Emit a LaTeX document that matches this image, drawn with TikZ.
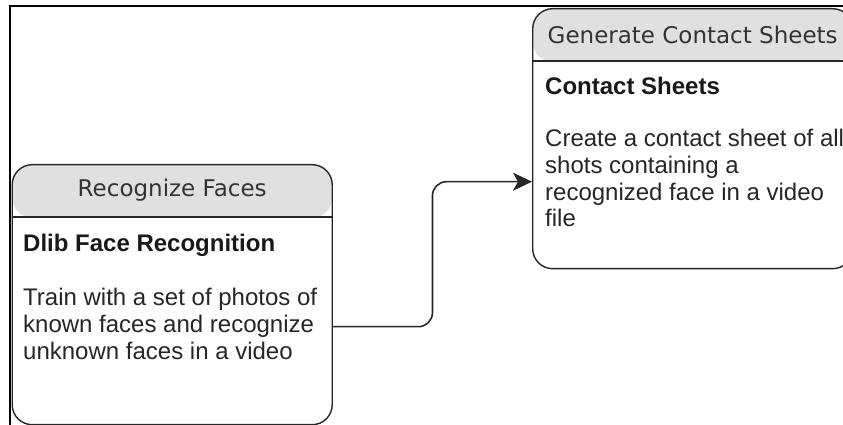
\documentclass[tikz,border=0pt]{standalone}
\usepackage{fontspec}
\setmainfont{Liberation Sans}
\newfontfamily\lanefont{DejaVu Sans}
\usetikzlibrary{calc,arrows.meta}

\tikzset{
	lane/.style={draw=black!85, line width=1.4pt, rounded corners=20pt, minimum width=320pt, minimum height=260pt, inner sep=0pt, anchor=north west,
		path picture={\fill[black!12] (path picture bounding box.north west) rectangle ([yshift=-53pt]path picture bounding box.north east);}},
	laneline/.style={draw=black!85, line width=1.4pt},
	lanetitle/.style={font=\lanefont\fontsize{23}{26}\selectfont, text=black!80, inner sep=0pt},
	lanehead/.style={font=\bfseries\fontsize{24}{27}\selectfont, text=black!90, inner sep=0pt, anchor=base west},
	lanebody/.style={font=\fontsize{24}{26.8}\selectfont, text=black!85, inner sep=0pt, anchor=north west, align=left},
	flow/.style={draw=black!85, line width=1.6pt, rounded corners=14pt, -{Stealth[length=19pt,width=18pt,inset=5pt]}}
}

\begin{document}
\begin{tikzpicture}[x=1pt, y=1pt]
			%%%%% START %%%%%
			\useasboundingbox (0,0) rectangle (843,425);
			\clip (0,0) rectangle (843,425);
			
			\node[lane] (recog) at (11.5,261) {};
			\draw[laneline] ([yshift=-53pt]recog.north west) -- ([yshift=-53pt]recog.north east);
			\node[lanetitle] (recogtitle) at ([yshift=-26.5pt]recog.north) {Recognize Faces};
			\node[lanehead] (recoghead) at (23,173) {Dlib Face Recognition};
			\node[lanebody] (recogbody) at (23,137) {Train with a set of photos of\\known faces and recognize\\unknown faces in a video};
			
			\node[lane] (sheets) at (532,417) {};
			\draw[laneline] ([yshift=-53pt]sheets.north west) -- ([yshift=-53pt]sheets.north east);
			\node[lanetitle] (sheetstitle) at ([yshift=-26.5pt]sheets.north) {Generate Contact Sheets};
			\node[lanehead] (sheetshead) at (545,330) {Contact Sheets};
			\node[lanebody] (sheetsbody) at (545,296) {Create a contact sheet of all\\shots containing a\\recognized face in a video\\file};
			
			\coordinate (out) at ([yshift=-32pt]recog.east);
			\coordinate (in) at ([yshift=-43pt]sheets.west);
			\draw[flow] (out) -| ($(out)!0.5!(in)$) |- (in);
			
			\draw[line width=2pt] (10,0) |- (843,419);
			%%%%% END %%%%%
\end{tikzpicture}
\end{document}
